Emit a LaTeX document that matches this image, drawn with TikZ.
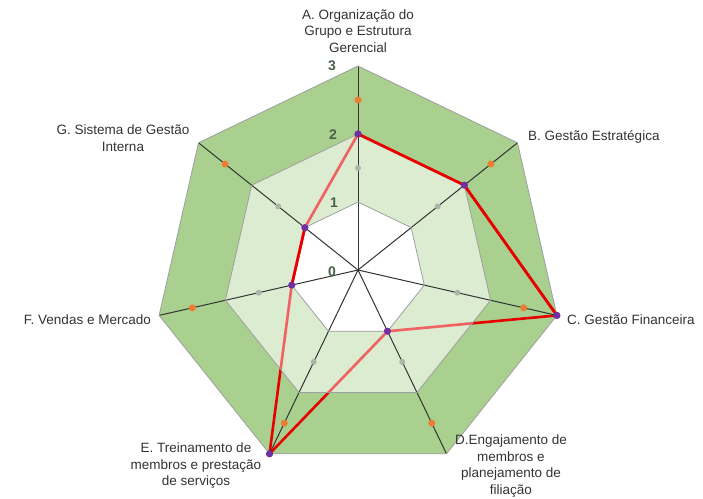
\documentclass[tikz,border=0pt]{standalone}
\usepackage{fontspec}
\setmainfont{Liberation Sans}
\usepackage{xcolor}
\usepackage{tikz}
\usetikzlibrary{positioning}
\definecolor{bandgreen}{RGB}{169,208,142}
\definecolor{datred}{RGB}{232,0,0}
\definecolor{datpurple}{RGB}{112,48,160}
\definecolor{datorange}{RGB}{237,125,49}
\definecolor{datgray}{RGB}{170,180,168}
\definecolor{lvlgray}{RGB}{75,95,75}
\tikzset{lbl/.style={font=\fontsize{13.5}{16.5}\selectfont,text=black!80,align=center,inner sep=1pt}}
\tikzset{lvl/.style={font=\fontsize{14}{14}\selectfont\bfseries,text=lvlgray,inner sep=0pt}}
\tikzset{ring/.style={draw=gray!75,line width=0.8pt}}
\tikzset{spoke/.style={draw=black!80,line width=1pt}}
\tikzset{dat/.style={draw=datred,line width=2.6pt,line join=round}}
\tikzset{dot/.style={circle,fill=#1,inner sep=0pt,minimum size=7pt}}

\begin{document}
\begin{tikzpicture}[x=1pt,y=1pt]
    \useasboundingbox (-358,-228) rectangle (345,270);

    % outer band and inner area
    \fill[bandgreen] (90:204) -- (38.57:204) -- (-12.86:204) -- (-64.29:204) -- (-115.71:204) -- (-167.14:204) -- (141.43:204) -- cycle;
    \fill[white] (90:68) -- (38.57:68) -- (-12.86:68) -- (-64.29:68) -- (-115.71:68) -- (-167.14:68) -- (141.43:68) -- cycle;

    \coordinate (o) at (0,0);
    \coordinate (ta) at (90:204);
    \coordinate (tb) at (38.57:204);
    \coordinate (tc) at (-12.86:204);
    \coordinate (td) at (-64.29:204);
    \coordinate (te) at (-115.71:204);
    \coordinate (tf) at (-167.14:204);
    \coordinate (tg) at (141.43:204);

    % data
    \node[dot=datpurple] (pa)at (90:136) {};
    \node[dot=datpurple] (pb)at (38.57:136) {};
    \node[dot=datpurple] (pc)at (-12.86:204) {};
    \node[dot=datpurple] (pd)at (-64.29:68) {};
    \node[dot=datpurple] (pe)at (-115.71:204) {};
    \node[dot=datpurple] (pf)at (-167.14:68) {};
    \node[dot=datpurple] (pg)at (141.43:68) {};
    \draw [dat] (pa.center) -- (pb.center) -- (pc.center) -- (pd.center) -- (pe.center) -- (pf.center) -- (pg.center) -- cycle;

    % light band between 1 and 2
    \fill[white,fill opacity=0.6,even odd rule] (90:136) -- (38.57:136) -- (-12.86:136) -- (-64.29:136) -- (-115.71:136) -- (-167.14:136) -- (141.43:136) -- cycle
        (90:68) -- (38.57:68) -- (-12.86:68) -- (-64.29:68) -- (-115.71:68) -- (-167.14:68) -- (141.43:68) -- cycle;
    \begin{scope}
        \clip (90:136) -- (38.57:136) -- (-12.86:136) -- (-64.29:136) -- (-115.71:136) -- (-167.14:136) -- (141.43:136) -- cycle;
        \draw [dat,draw opacity=0.35] (pa.center) -- (pb.center) -- (pc.center) -- (pd.center) -- (pe.center) -- (pf.center) -- (pg.center) -- cycle;
    \end{scope}

    \draw [spoke] (o) -- (ta);
    \draw [spoke] (o) -- (tb);
    \draw [spoke] (o) -- (tc);
    \draw [spoke] (o) -- (td);
    \draw [spoke] (o) -- (te);
    \draw [spoke] (o) -- (tf);
    \draw [spoke] (o) -- (tg);

    \draw [ring] (90:68) -- (38.57:68) -- (-12.86:68) -- (-64.29:68) -- (-115.71:68) -- (-167.14:68) -- (141.43:68) -- cycle;
    \draw [ring] (90:136) -- (38.57:136) -- (-12.86:136) -- (-64.29:136) -- (-115.71:136) -- (-167.14:136) -- (141.43:136) -- cycle;
    \draw [ring] (ta) -- (tb) -- (tc) -- (td) -- (te) -- (tf) -- (tg) -- cycle;

    \draw [dat] (pa.center) -- (pb.center) -- (pc.center);
    \draw [dat] (pf.center) -- (pg.center);

    \node[dot=datpurple] at (pa) {};
    \node[dot=datpurple] at (pb) {};
    \node[dot=datpurple] at (pc) {};
    \node[dot=datpurple] at (pd) {};
    \node[dot=datpurple] at (pe) {};
    \node[dot=datpurple] at (pf) {};
    \node[dot=datpurple] at (pg) {};

    \node[dot=datorange] (qa)at (90:170) {};
    \node[dot=datorange] (qb)at (38.57:170) {};
    \node[dot=datorange] (qc)at (-12.86:170) {};
    \node[dot=datorange] (qd)at (-64.29:170) {};
    \node[dot=datorange] (qe)at (-115.71:170) {};
    \node[dot=datorange] (qf)at (-167.14:170) {};
    \node[dot=datorange] (qg)at (141.43:170) {};

    \node[dot=datgray,minimum size=6pt] (ra)at (90:102) {};
    \node[dot=datgray,minimum size=6pt] (rb)at (38.57:102) {};
    \node[dot=datgray,minimum size=6pt] (rc)at (-12.86:102) {};
    \node[dot=datgray,minimum size=6pt] (rd)at (-64.29:102) {};
    \node[dot=datgray,minimum size=6pt] (re)at (-115.71:102) {};
    \node[dot=datgray,minimum size=6pt] (rf)at (-167.14:102) {};
    \node[dot=datgray,minimum size=6pt] (rg)at (141.43:102) {};

    % scale
    \node[lvl] (l0)at (-26,-2) {0};
    \node[lvl] (l1)at (-24,67) {1};
    \node[lvl] (l2)at (-25,135) {2};
    \node[lvl] (l3)at (-26,204) {3};

    % category labels
    \node[lbl] (la)at (0,239) {A. Organização do\\Grupo e Estrutura\\Gerencial};
    \node[lbl,anchor=west] (lb)at (169,133) {B. Gestão Estratégica};
    \node[lbl,anchor=west] (lc)at (208,-50) {C. Gestão Financeira};
    \node[lbl] (ld)at (153,-196) {D.Engajamento de\\membros e\\planejamento de\\filiação};
    \node[lbl] (le)at (-162,-196) {E. Treinamento de\\membros e prestação\\de serviços};
    \node[lbl,anchor=east] (lf)at (-206,-50) {F. Vendas e Mercado};
    \node[lbl] (lg)at (-235,132) {G. Sistema de Gestão\\Interna};
\end{tikzpicture}
\end{document}
